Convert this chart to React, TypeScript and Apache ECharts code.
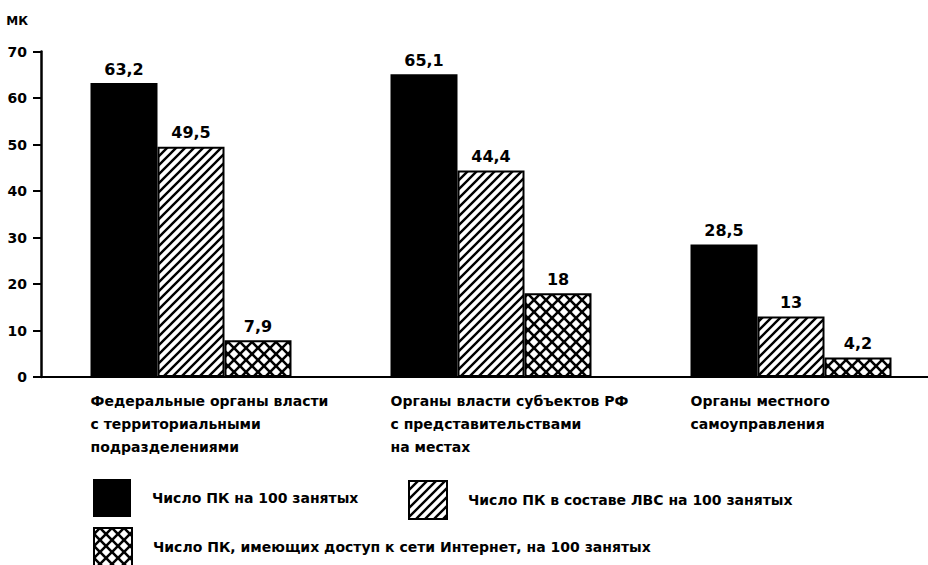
import React, { useEffect, useRef } from "react";
import * as echarts from "echarts";

// Categories (government levels) and the three indicators per category
const categories = [
  "Федеральные органы власти\nс территориальными\nподразделениями",
  "Органы власти субъектов РФ\nс представительствами\nна местах",
  "Органы местного\nсамоуправления",
];
const seriesNames = [
  "Число ПК на 100 занятых",
  "Число ПК в составе ЛВС на 100 занятых",
  "Число ПК, имеющих доступ к сети Интернет, на 100 занятых",
];
const pcPer100 = [63.2, 65.1, 28.5];
const lanPcPer100 = [49.5, 44.4, 13];
const internetPcPer100 = [7.9, 18, 4.2];

const yMin = 0;
const yMax = 70;
const yStep = 10;
const yUnit = "МК";

const FONT = "DejaVu Sans";

// Diagonal "/" hatching tile
function hatchTile(): HTMLCanvasElement {
  const s = 9;
  const c = document.createElement("canvas");
  c.width = s;
  c.height = s;
  const g = c.getContext("2d")!;
  g.fillStyle = "#fff";
  g.fillRect(0, 0, s, s);
  g.strokeStyle = "#000";
  g.lineWidth = 2.4;
  g.beginPath();
  g.moveTo(-2, s + 2);
  g.lineTo(s + 2, -2);
  g.moveTo(-2, 2);
  g.lineTo(2, -2);
  g.moveTo(s - 2, s + 2);
  g.lineTo(s + 2, s - 2);
  g.stroke();
  return c;
}

// Cross-hatch tile: black ground with white diamond holes
function crossTile(): HTMLCanvasElement {
  const s = 12;
  const r = 4.2;
  const c = document.createElement("canvas");
  c.width = s;
  c.height = s;
  const g = c.getContext("2d")!;
  g.fillStyle = "#000";
  g.fillRect(0, 0, s, s);
  g.fillStyle = "#fff";
  const centers = [
    [s / 2, s / 2],
    [0, 0],
    [s, 0],
    [0, s],
    [s, s],
  ];
  for (const [cx, cy] of centers) {
    g.beginPath();
    g.moveTo(cx - r, cy);
    g.lineTo(cx, cy - r);
    g.lineTo(cx + r, cy);
    g.lineTo(cx, cy + r);
    g.closePath();
    g.fill();
  }
  return c;
}

const fmt = (v: number) => String(v).replace(".", ",");

export default function App() {
  const ref = useRef<HTMLDivElement>(null);

  useEffect(() => {
    if (!ref.current) return;
    const chart = echarts.init(ref.current, undefined, { renderer: "svg" });

    const hatch = hatchTile();
    const cross = crossTile();
    const hatchFill: any = {
      image: hatch.toDataURL("image/png"),
      repeat: "repeat",
      imageWidth: hatch.width,
      imageHeight: hatch.height,
    };
    const crossFill: any = {
      image: cross.toDataURL("image/png"),
      repeat: "repeat",
      imageWidth: cross.width,
      imageHeight: cross.height,
    };

    const valueLabel = {
      show: true,
      position: "top",
      distance: 6,
      color: "#000",
      fontFamily: FONT,
      fontWeight: "bold",
      fontSize: 16,
      formatter: (p: any) => fmt(p.value),
    };

    const legendBase = {
      orient: "horizontal",
      padding: 0,
      itemWidth: 38,
      itemHeight: 38,
      icon: "rect",
      selectedMode: false,
      textStyle: {
        color: "#000",
        fontFamily: FONT,
        fontWeight: "bold",
        fontSize: 14,
        padding: [0, 0, 0, 16],
      },
    };

    chart.setOption({
      animation: false,
      backgroundColor: "#fff",
      textStyle: { fontFamily: FONT },
      grid: { left: 41, top: 51.5, width: 900, height: 325.5 },
      legend: [
        { ...legendBase, data: [seriesNames[0]], left: 93, top: 479 },
        { ...legendBase, data: [seriesNames[1]], left: 408, top: 480 },
        { ...legendBase, data: [seriesNames[2]], left: 93, top: 527 },
      ],
      xAxis: {
        type: "category",
        data: categories,
        axisLine: { lineStyle: { color: "#000", width: 2 } },
        axisTick: { show: false },
        axisLabel: {
          interval: 0,
          margin: 12,
          align: "center",
          verticalAlign: "top",
          formatter: (v: string) =>
            v
              .split("\n")
              .map((l) => `{t|${l}}`)
              .join("\n"),
          rich: {
            t: {
              width: 201,
              align: "left",
              color: "#000",
              fontFamily: FONT,
              fontWeight: "bold",
              fontSize: 14,
              lineHeight: 23,
            },
          },
        },
      },
      yAxis: {
        type: "value",
        min: yMin,
        max: yMax,
        interval: yStep,
        name: yUnit,
        nameLocation: "end",
        nameGap: 31,
        nameTextStyle: {
          color: "#000",
          fontFamily: FONT,
          fontWeight: "bold",
          fontSize: 12,
          align: "right",
          verticalAlign: "middle",
          padding: [0, 13, 0, 0],
        },
        axisLine: { show: true, lineStyle: { color: "#000", width: 2.5 } },
        axisTick: { show: true, length: 8, lineStyle: { color: "#000", width: 2 } },
        axisLabel: {
          color: "#000",
          fontFamily: FONT,
          fontWeight: "bold",
          fontSize: 14,
          margin: 14,
        },
        splitLine: { show: false },
      },
      series: [
        {
          name: seriesNames[0],
          type: "bar",
          data: pcPer100,
          barWidth: 67,
          barGap: "0%",
          itemStyle: { color: "#000", borderColor: "#000", borderWidth: 0 },
          label: valueLabel,
        },
        {
          name: seriesNames[1],
          type: "bar",
          data: lanPcPer100,
          barWidth: 67,
          barGap: "0%",
          itemStyle: { color: hatchFill, borderColor: "#000", borderWidth: 2 },
          label: valueLabel,
        },
        {
          name: seriesNames[2],
          type: "bar",
          data: internetPcPer100,
          barWidth: 67,
          barGap: "0%",
          itemStyle: { color: crossFill, borderColor: "#000", borderWidth: 2 },
          label: valueLabel,
        },
      ],
    });

    return () => chart.dispose();
  }, []);

  // The chart surface is a little wider than the window so the third
  // category keeps the same spacing; the overflow is simply cut off.
  return (
    <div
      ref={ref}
      style={{ position: "fixed", left: 0, top: 0, width: 942, height: 565 }}
    />
  );
}
